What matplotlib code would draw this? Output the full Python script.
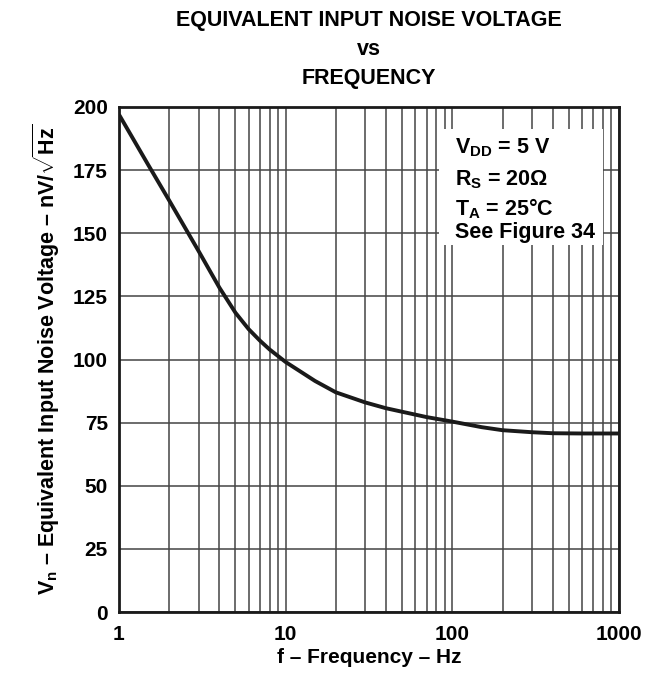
import matplotlib
matplotlib.use('Agg')
import matplotlib.pyplot as plt
from matplotlib.ticker import FixedLocator, NullFormatter

plt.rcParams['font.family'] = ['Liberation Sans', 'DejaVu Sans']
plt.rcParams['font.weight'] = 'bold'
plt.rcParams['mathtext.fontset'] = 'custom'
plt.rcParams['mathtext.rm'] = 'Liberation Sans:bold'
plt.rcParams['mathtext.it'] = 'Liberation Sans:bold'
plt.rcParams['mathtext.bf'] = 'Liberation Sans:bold'

# curve
freq_hz = [1, 1.5, 2, 3, 4, 5, 6, 7, 8, 10, 15, 20, 30, 40, 50, 70,
           100, 150, 200, 300, 400, 600, 1000]
noise_nv = [197, 177, 163, 143, 128.5, 118.5, 112, 107.5, 104, 99, 91.5, 87,
            83, 80.7, 79.3, 77.2, 75.4, 73.2, 72, 71.2, 70.8, 70.7, 70.7]

x_ticks = [1, 10, 100, 1000]
x_tick_labels = ['1', '10', '100', '1000']
y_ticks = [0, 25, 50, 75, 100, 125, 150, 175, 200]

W, H = 655, 675
fig = plt.figure(figsize=(W / 100, H / 100), dpi=100)
ax = fig.add_axes([119 / W, 1 - 612 / H, 500 / W, 505 / H])

ax.plot(freq_hz, noise_nv, color='#1a1a1a', lw=2.8, solid_capstyle='butt', zorder=4)

ax.set_xscale('log')
ax.set_xlim(1, 1000)
ax.set_ylim(0, 200)
ax.xaxis.set_major_locator(FixedLocator(x_ticks))
ax.set_xticklabels(x_tick_labels)
minor = [m * d for d in (1, 10, 100) for m in range(2, 10)]
ax.xaxis.set_minor_locator(FixedLocator(minor))
ax.xaxis.set_minor_formatter(NullFormatter())
ax.set_yticks(y_ticks)

ax.grid(True, which='both', axis='x', color='#444444', lw=1.1)
ax.grid(True, which='major', axis='y', color='#444444', lw=1.1)
ax.tick_params(which='both', length=0, labelsize=15)
ax.tick_params(axis='x', pad=9)
ax.tick_params(axis='y', pad=8)
for s in ax.spines.values():
    s.set_linewidth(2)
    s.set_color('#1a1a1a')

ax.set_xlabel('f – Frequency – Hz', fontsize=15, fontweight='bold', labelpad=3)
ax.set_ylabel(r'V$_\mathrm{n}$ – Equivalent Input Noise Voltage – nV/$\sqrt{\mathrm{Hz}}$',
              fontsize=15.5, fontweight='bold', labelpad=8)

# white box with the test conditions
box = plt.Rectangle((439 / W, 1 - 245 / H), 164 / W, 116 / H,
                    transform=fig.transFigure, facecolor='white', edgecolor='none', zorder=3)
box.set_clip_on(False)
ax.add_artist(box)
lines = [r'V$_\mathrm{DD}$ = 5 V', r'R$_\mathrm{S}$ = 20Ω', r'T$_\mathrm{A}$ = 25°C', 'See Figure 34']
baselines = [153, 185, 215, 238]
for t, y in zip(lines, baselines):
    fig.text(455 / W, 1 - y / H, t, fontsize=15.5, fontweight='bold',
             va='baseline', ha='left', zorder=5)

title = ['EQUIVALENT INPUT NOISE VOLTAGE', 'vs', 'FREQUENCY']
for t, y in zip(title, [26, 55, 84]):
    fig.text(369 / W, 1 - y / H, t, fontsize=15.5, fontweight='bold', ha='center', va='baseline')

fig.savefig('out.png', dpi=100)
